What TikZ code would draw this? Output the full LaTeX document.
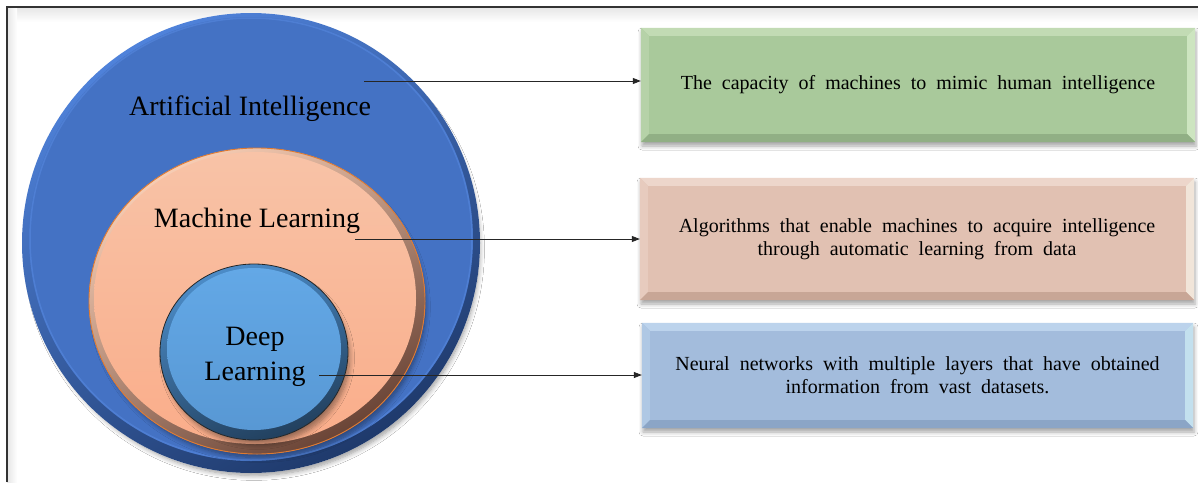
\documentclass[tikz,border=0pt]{standalone}
\usepackage{fontspec}
\setmainfont{Liberation Serif}
\usetikzlibrary{arrows.meta,shadows.blur,calc}

% circle colours
\definecolor{aiFill}{HTML}{4472C4}
\definecolor{aiEdge}{HTML}{5587DE}
\definecolor{aiRimTop}{HTML}{4F82DA}
\definecolor{aiRimBot}{HTML}{1F3A6C}
\definecolor{mlTop}{HTML}{F8C3A7}
\definecolor{mlBot}{HTML}{FAAD8A}
\definecolor{mlRimTop}{HTML}{F7CDB4}
\definecolor{mlRimBot}{HTML}{6A4436}
\definecolor{mlLine}{HTML}{E07A30}
\definecolor{dlTop}{HTML}{63A8E6}
\definecolor{dlBot}{HTML}{5898D4}
\definecolor{dlRimTop}{HTML}{4C8CC8}
\definecolor{dlRimBot}{HTML}{22405E}
% box colours
\definecolor{gMid}{HTML}{A9C99B}
\definecolor{gTop}{HTML}{C2DBB4}
\definecolor{gLeft}{HTML}{B6D2A8}
\definecolor{gRight}{HTML}{CDE5C0}
\definecolor{gBot}{HTML}{91AF85}
\definecolor{sMid}{HTML}{E1C1B2}
\definecolor{sTop}{HTML}{EDD6CB}
\definecolor{sLeft}{HTML}{E7CBBE}
\definecolor{sRight}{HTML}{F1E5D9}
\definecolor{sBot}{HTML}{C8A696}
\definecolor{bMid}{HTML}{A3BCDC}
\definecolor{bTop}{HTML}{BCD3EC}
\definecolor{bLeft}{HTML}{AFC8E4}
\definecolor{bRight}{HTML}{C3E0EE}
\definecolor{bBot}{HTML}{8BA5C6}

% text face for the description boxes, with wide word gaps
\newcommand\boxtextfont{\fontsize{20}{23}\selectfont\spaceskip=0.5em plus 0.1em\relax}

\tikzset{
  circlelabel/.style={anchor=base, inner sep=0pt, font=\fontsize{28}{33}\selectfont},
  infobox/.style={rectangle, inner sep=0pt, align=center,
    minimum width=554pt, font=\boxtextfont,
    blur shadow={shadow xshift=1pt, shadow yshift=-4pt, shadow blur radius=4pt, shadow opacity=35}},
  connector/.style={draw=black!85, line width=0.8pt, -{Triangle[length=8pt,width=6pt]}},
  disc shadow/.style={blur shadow={shadow xshift=3pt, shadow yshift=-6pt, shadow scale=0.985,
    shadow blur radius=5pt, shadow blur steps=8, shadow opacity=40}}
}

% bevelled edges of a box node: #1 node, #2 colour prefix
\newcommand\bevelframe[2]{%
  \fill[#2Top] (#1.north west) -- (#1.north east) -- ([shift={(-8,8)}]#1.north east) -- ([shift={(8,8)}]#1.north west) -- cycle;
  \fill[#2Left] (#1.north west) -- ([shift={(8,8)}]#1.north west) -- ([shift={(8,-8)}]#1.south west) -- (#1.south west) -- cycle;
  \fill[#2Right] (#1.north east) -- ([shift={(-8,8)}]#1.north east) -- ([shift={(-8,-8)}]#1.south east) -- (#1.south east) -- cycle;
  \fill[#2Bot] (#1.south west) -- ([shift={(8,-8)}]#1.south west) -- ([shift={(-8,-8)}]#1.south east) -- (#1.south east) -- cycle;
}

\begin{document}
\begin{tikzpicture}[x=1pt,y=-1pt]
\useasboundingbox (0,0) rectangle (1198,482);
\fill[white] (0,0) rectangle (1198,482);

% page frame with a soft inner shade
\shade[top color=black!10, bottom color=white] (7,7) rectangle (1198,22);
\shade[left color=black!10, right color=white] (7,7) rectangle (17,482);
\draw[black!80, line width=1.2pt] (7,482) -- (7,7) -- (1198,7);

% Artificial Intelligence disc
\path[disc shadow, fill=white] (251,243) ellipse [x radius=229, y radius=230];
\shade[top color=aiRimTop, bottom color=aiRimBot, shading angle=30] (251,243) ellipse [x radius=229, y radius=230];
\fill[aiFill] (251,239) ellipse [x radius=222, y radius=222];
\draw[aiEdge, line width=1.5pt, opacity=0.6] (251,239) ellipse [x radius=221, y radius=221];

% Machine Learning disc
\path[disc shadow, fill=white] (257,301) ellipse [x radius=168, y radius=153];
\shade[top color=mlRimTop, bottom color=mlRimBot, shading angle=30] (257,301) ellipse [x radius=168, y radius=153];
\draw[mlLine, line width=0.9pt] (257,301) ellipse [x radius=168, y radius=153];
\shade[top color=mlTop, bottom color=mlBot] (255,298) ellipse [x radius=161, y radius=146];

% Deep Learning disc
\path[disc shadow, fill=white] (254,352) ellipse [x radius=94, y radius=88];
\shade[top color=dlRimTop, bottom color=dlRimBot, shading angle=20] (254,352) ellipse [x radius=94, y radius=88];
\draw[black!85, line width=0.8pt] (254,352) ellipse [x radius=94, y radius=88];
\shade[top color=dlTop, bottom color=dlBot] (254,349) ellipse [x radius=87, y radius=81];

% disc labels
\node[circlelabel] (ai) at (250,115) {Artificial Intelligence};
\node[circlelabel] (ml) at (257,227) {Machine Learning};
\node[circlelabel] (dl) at (255,345) {Deep};
\node[circlelabel] (dl2) at (255,380) {Learning};

% description boxes
\node[infobox, fill=gMid, minimum height=114pt] (b1) at (918,85)
  {The capacity of machines to mimic human intelligence};
\bevelframe{b1}{g}

\node[infobox, fill=sMid, minimum height=122pt] (b2) at (917,239)
  {Algorithms that enable machines to acquire intelligence\\through automatic learning from data};
\bevelframe{b2}{s}

\node[infobox, fill=bMid, minimum height=105pt, minimum width=551pt] (b3) at (917.5,375.5)
  {Neural networks with multiple layers that have obtained\\information from vast datasets.};
\bevelframe{b3}{b}

% connectors
\coordinate (aiS) at (364,81);
\coordinate (mlS) at (355,239);
\coordinate (dlS) at (319,375);
\draw[connector] (aiS) -- (aiS -| b1.west);
\draw[connector] (mlS) -- (mlS -| b2.west);
\draw[connector] (dlS) -- (dlS -| b3.west);
\end{tikzpicture}
\end{document}
